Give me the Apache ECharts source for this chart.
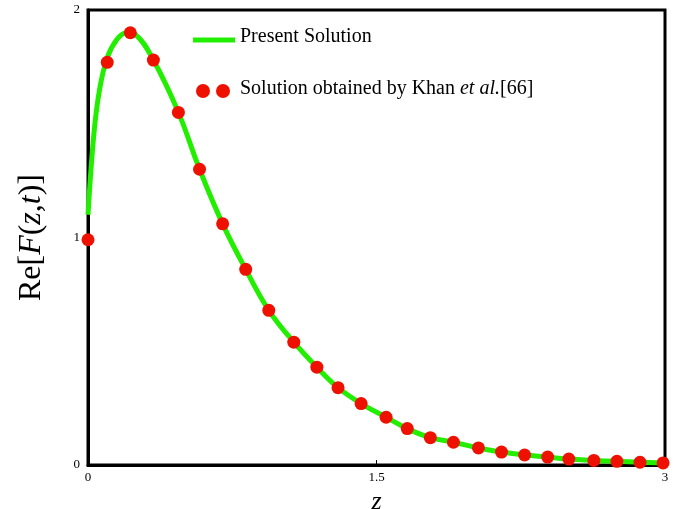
<!DOCTYPE html>
<html><head><meta charset="utf-8">
<script src="https://cdn.jsdelivr.net/npm/echarts@6/dist/echarts.min.js"></script>
<style>html,body{margin:0;background:#fff}#c{width:685px;height:509px}</style></head>
<body><div id="c"></div>
<script>
const dotX = [0,0.1,0.22,0.34,0.47,0.58,0.7,0.82,0.94,1.07,1.19,1.3,1.42,1.55,1.66,1.78,1.9,2.03,2.15,2.27,2.39,2.5,2.63,2.75,2.87,2.99];
const dotY = [0.99,1.77,1.90,1.78,1.55,1.30,1.06,0.86,0.68,0.54,0.43,0.34,0.27,0.21,0.16,0.12,0.10,0.075,0.057,0.044,0.035,0.026,0.02,0.016,0.012,0.009];
const lineX = [0,0.03,0.06,0.1,0.15,0.2,0.25,0.34,0.47,0.58,0.7,0.82,0.94,1.07,1.19,1.3,1.42,1.55,1.66,1.78,1.9,2.03,2.15,2.27,2.39,2.5,2.63,2.75,2.87,3];
const lineY = [1.1,1.45,1.65,1.79,1.87,1.9,1.89,1.78,1.55,1.30,1.06,0.86,0.68,0.54,0.43,0.34,0.27,0.21,0.16,0.12,0.10,0.075,0.057,0.044,0.035,0.026,0.02,0.016,0.012,0.009];
const xTicks = [0,1.5,3], yTicks=[0,1,2];
const chart = echarts.init(document.getElementById('c'));
const serif = 'Liberation Serif';
chart.setOption({
  animation:false,
  grid:{left:88,right:20,top:10,bottom:44,containLabel:false,outerBoundsMode:'none'},
  xAxis:{type:'value',min:0,max:3,interval:1.5,
    axisLine:{onZero:false,lineStyle:{color:'#000',width:3}},
    axisTick:{inside:true,length:5,lineStyle:{color:'#000'}},
    axisLabel:{color:'#000',fontFamily:serif,fontSize:13,margin:6},
    splitLine:{show:false},
    name:'z',nameLocation:'middle',nameGap:22,
    nameTextStyle:{fontFamily:serif,fontStyle:'italic',fontSize:26,color:'#000'}},
  yAxis:{type:'value',min:0,max:2,interval:1,
    axisLine:{onZero:false,lineStyle:{color:'#000',width:3}},
    axisTick:{inside:true,length:5,lineStyle:{color:'#000'}},
    axisLabel:{color:'#000',fontFamily:serif,fontSize:13,margin:8},
    splitLine:{show:false},
    name:'{a|Re[}{b|F}{a|(}{b|z}{a|,}{b|t}{a|)]}',nameLocation:'middle',nameGap:40,
    nameTextStyle:{rich:{a:{fontFamily:serif,fontSize:32,color:'#000'},b:{fontFamily:serif,fontSize:32,fontStyle:'italic',color:'#000'}}}},
  graphic:[
    {type:'rect',shape:{x:88,y:10,width:577,height:455},style:{fill:'none',stroke:'#000',lineWidth:3},silent:true},
    {type:'line',shape:{x1:193,y1:40,x2:235,y2:40},style:{stroke:'#22ee00',lineWidth:5}},
    {type:'text',left:240,top:27,style:{text:'Present Solution',font:'20px "Liberation Serif"',fill:'#000'}},
    {type:'circle',shape:{cx:203,cy:91,r:7},style:{fill:'#ee1100'}},
    {type:'circle',shape:{cx:223,cy:91,r:7},style:{fill:'#ee1100'}},
    {type:'text',left:240,top:79,style:{text:'{a|Solution obtained by Khan }{b|et al.}{a|[66]}',
      rich:{a:{fontFamily:serif,fontSize:20,fill:'#000'},b:{fontFamily:serif,fontSize:20,fontStyle:'italic',fill:'#000'}}}}
  ],
  series:[
    {type:'line',data:lineX.map((x,i)=>[x,lineY[i]]),smooth:0.4,showSymbol:false,lineStyle:{color:'#22ee00',width:5},z:2},
    {type:'scatter',data:dotX.map((x,i)=>[x,dotY[i]]),symbolSize:13,itemStyle:{color:'#ee1100',opacity:1},z:3}
  ]
});
</script></body></html>
